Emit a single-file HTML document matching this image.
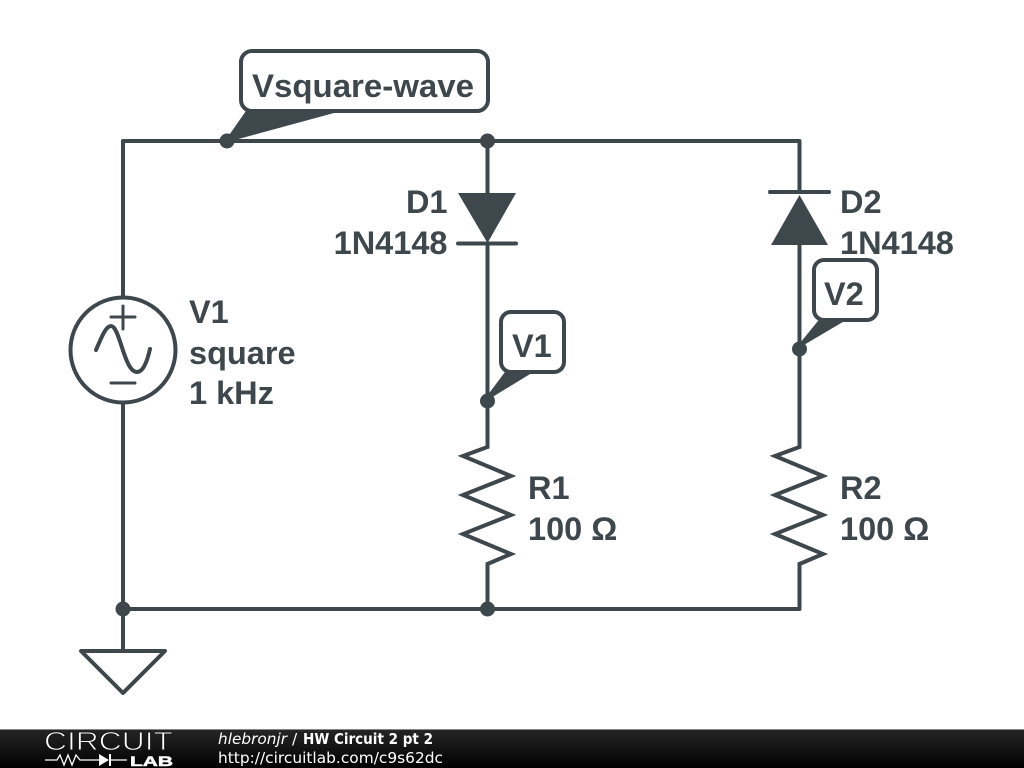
<!DOCTYPE html>
<html>
<head>
<meta charset="utf-8">
<style>
html,body{margin:0;padding:0;background:#fff;width:1024px;height:768px;overflow:hidden}
svg{display:block}
.l{font-family:"Liberation Sans",sans-serif;font-weight:bold;font-size:32.5px;fill:#3d474c}
.w{fill:none;stroke:#3d474c;stroke-width:4;stroke-linecap:round;stroke-linejoin:round}
.m{fill:none;stroke:#3d474c;stroke-width:4;stroke-linecap:butt;stroke-linejoin:miter;stroke-miterlimit:10}
.f{fill:#3d474c}
.d{font-family:"DejaVu Sans",sans-serif;font-size:15.4px;fill:#fff}
</style>
</head>
<body>
<svg width="1024" height="768" viewBox="0 0 1024 768" xmlns="http://www.w3.org/2000/svg">
<defs>
<linearGradient id="g" x1="0" y1="0" x2="0" y2="1">
<stop offset="0" stop-color="#262626"/>
<stop offset="1" stop-color="#000"/>
</linearGradient>
</defs>
<rect width="1024" height="768" fill="#fff"/>

<!-- wires -->
<path class="w" d="M123 297V141H799.500V191M799.500 243V446"/>
<path class="w" d="M123 403V609H799.500V564"/>
<path class="w" d="M487.500 141V193M487.500 243V445"/>
<path class="w" d="M123 609V651"/>

<!-- resistors -->
<path class="m" d="M487.500 445V447L463 456L511 476L463 495L511 515L463 534L511 554L487.500 564V609"/>
<path class="m" d="M799.500 445V447L775 456L823 476L775 495L823 515L775 534L823 554L799.500 564V609"/>

<!-- diodes -->
<path class="f" d="M458 193H516L487.500 243Z"/>
<path class="w" d="M458 243.500H516"/>
<path class="f" d="M771 245H828L799.500 195Z"/>
<path class="w" d="M770 192H829"/>

<!-- source -->
<circle cx="123" cy="350" r="52.500" fill="none" stroke="#3d474c" stroke-width="4"/>
<path class="w" style="stroke-width:3" d="M111 317H135M123 306V329M111 383H135"/>
<path class="w" d="M96 350C102 336 106 326 111 326C120 326 124 372 137 372C143 372 147 362 150 349"/>

<!-- ground -->
<path class="w" d="M81 651H165L123 693Z"/>

<!-- junctions -->
<circle class="f" cx="227" cy="141" r="7.500"/>
<circle class="f" cx="487.500" cy="141" r="7.500"/>
<circle class="f" cx="487.500" cy="401" r="7.500"/>
<circle class="f" cx="799.500" cy="349" r="7.500"/>
<circle class="f" cx="123" cy="609" r="7.500"/>
<circle class="f" cx="487.500" cy="609" r="7.500"/>

<!-- callouts -->
<path class="f" d="M248 108L225 141L231 141L345 110Z"/>
<rect x="241" y="51" width="247" height="60" rx="11" fill="#fff" stroke="#3d474c" stroke-width="4"/>
<text class="l" x="252" y="97" textLength="222" lengthAdjust="spacingAndGlyphs">Vsquare-wave</text>

<path class="f" d="M508 368L484 400L490 398.500L540 368Z"/>
<rect x="501" y="312" width="63" height="60" rx="10" fill="#fff" stroke="#3d474c" stroke-width="4"/>
<text class="l" x="512" y="357">V1</text>

<path class="f" d="M822 316L796 348L803 345.500L853 316Z"/>
<rect x="814" y="260" width="63" height="60" rx="10" fill="#fff" stroke="#3d474c" stroke-width="4"/>
<text class="l" x="824" y="305">V2</text>

<!-- labels -->
<text class="l" x="447.500" y="213" text-anchor="end">D1</text>
<text class="l" x="447.500" y="254" text-anchor="end">1N4148</text>
<text class="l" x="840" y="213">D2</text>
<text class="l" x="840" y="254">1N4148</text>
<text class="l" x="189" y="323">V1</text>
<text class="l" x="189" y="364">square</text>
<text class="l" x="189" y="404">1 kHz</text>
<text class="l" x="528" y="499">R1</text>
<text class="l" x="528" y="540">100 Ω</text>
<text class="l" x="840" y="499">R2</text>
<text class="l" x="840" y="540">100 Ω</text>

<!-- footer -->
<rect x="0" y="729" width="1024" height="39" fill="url(#g)"/>
<rect x="0" y="729" width="1024" height="1" fill="#888"/>
<text x="44" y="750" font-family="Liberation Sans,sans-serif" font-size="25.500" fill="#fff" stroke="#151515" stroke-width="0.9" textLength="129" lengthAdjust="spacingAndGlyphs">CIRCUIT</text>
<path d="M45 760H57L60 755L64 765L68 755L72 765L76 755L80 760H99M110 760H127" fill="none" stroke="#fff" stroke-width="1.300"/>
<path d="M99 754V766L109 760Z" fill="#fff"/>
<path d="M110 754V766" stroke="#fff" stroke-width="2"/>
<text x="130" y="766" font-family="Liberation Sans,sans-serif" font-weight="bold" font-size="14" fill="#fff" stroke="#fff" stroke-width="0.5" textLength="43" lengthAdjust="spacingAndGlyphs">LAB</text>
<text class="d" x="218" y="744" font-style="italic" textLength="69" lengthAdjust="spacingAndGlyphs">hlebronjr</text>
<text class="d" x="292" y="744">/</text>
<text class="d" x="303" y="744" font-weight="bold" textLength="130" lengthAdjust="spacingAndGlyphs">HW Circuit 2 pt 2</text>
<text class="d" x="218" y="763" textLength="225" lengthAdjust="spacingAndGlyphs">http://circuitlab.com/c9s62dc</text>
</svg>
</body>
</html>
